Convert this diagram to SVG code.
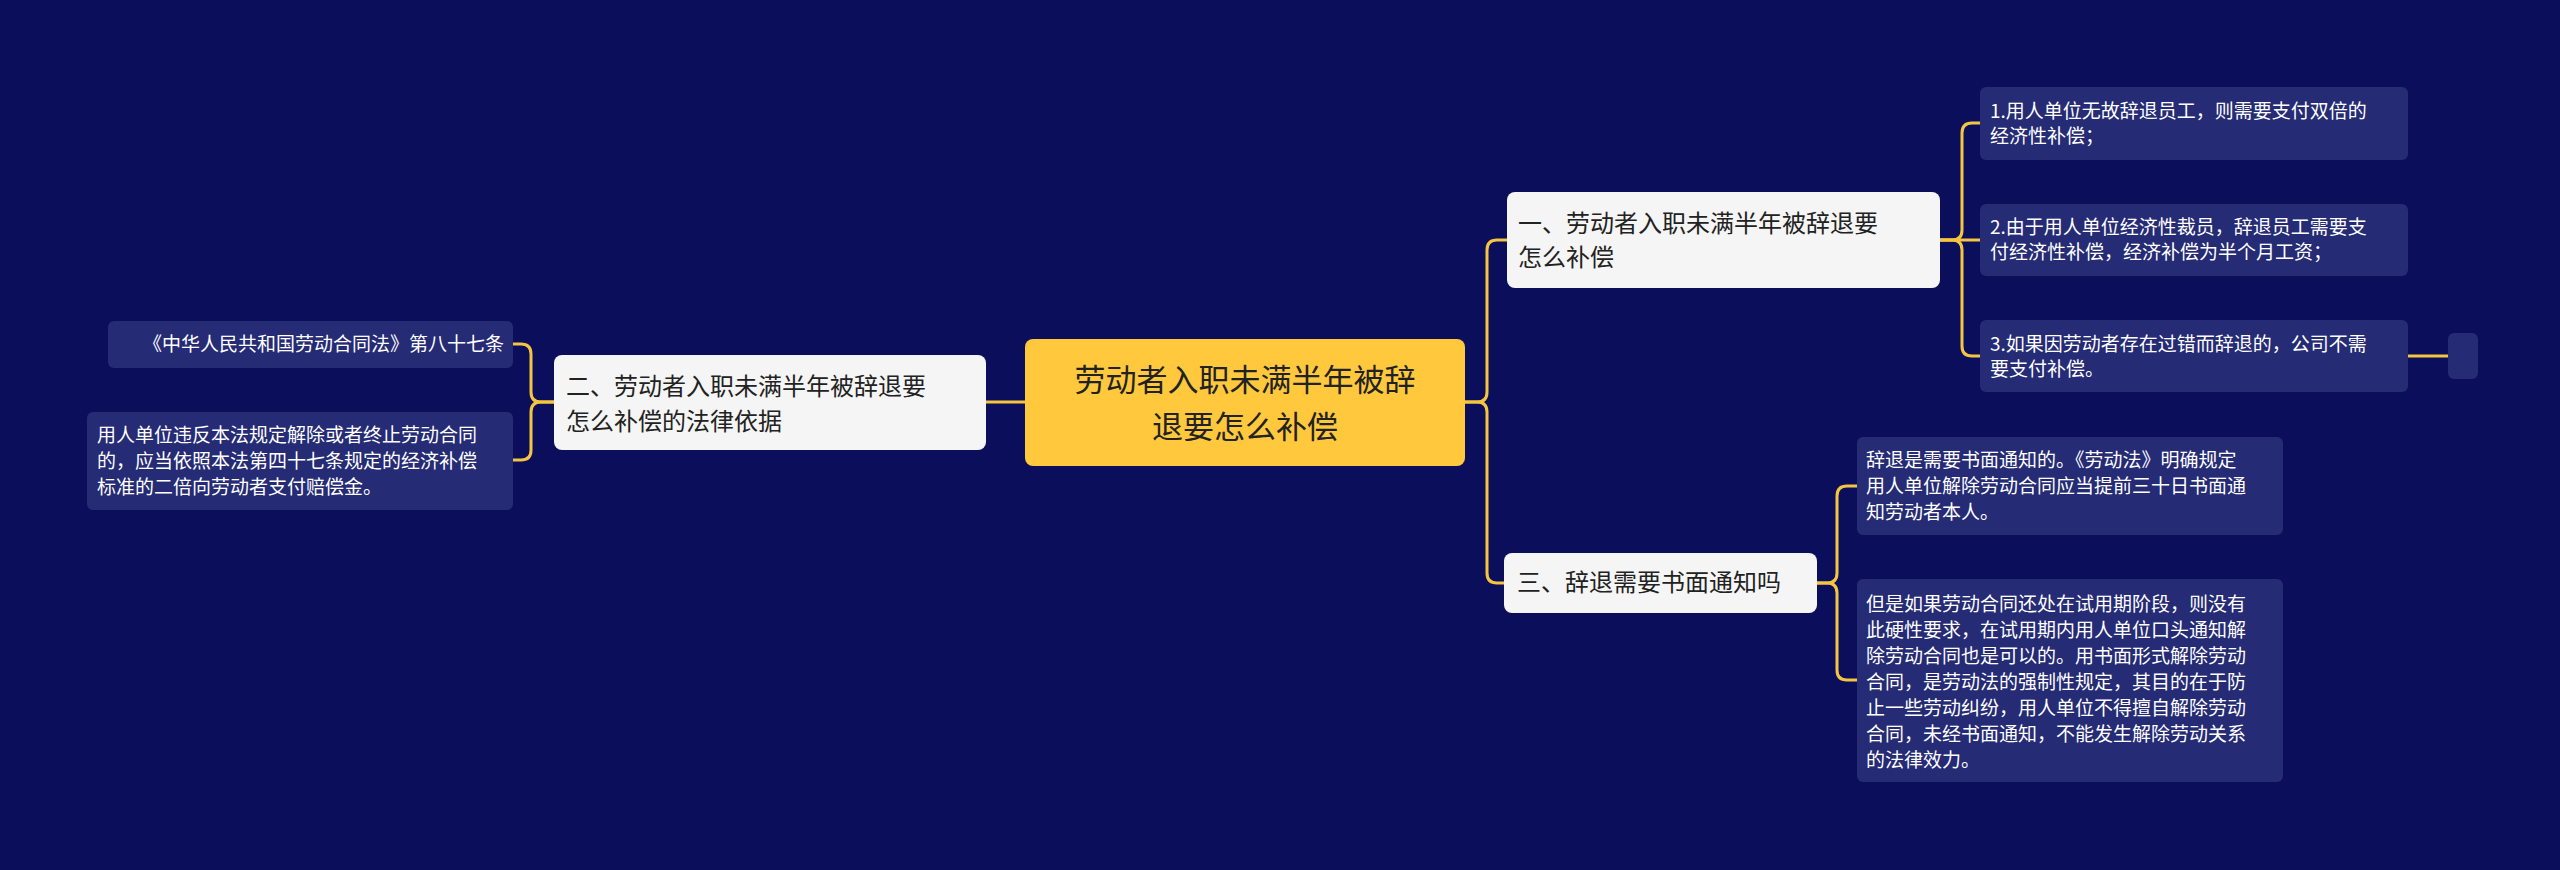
<svg xmlns="http://www.w3.org/2000/svg" width="2560" height="870" viewBox="0 0 2560 870">
<style>
text{font-family:"Noto Sans CJK SC","Liberation Sans",sans-serif}
.leaf{fill:#252b74}
.lt{fill:#ffffff;font-size:19px}
.wt{fill:#222222;font-size:24px}
.con{fill:none;stroke:#f5c542;stroke-width:3}
</style>
<rect width="2560" height="870" fill="#0b0e5a"/>
<g id="connectors">
<path class="con" d="M1465,402 H1477 Q1487,402 1487,392 V250 Q1487,240 1497,240 H1507"/>
<path class="con" d="M1465,402 H1477 Q1487,402 1487,412 V573 Q1487,583 1497,583 H1504"/>
<path class="con" d="M1025,402 H986"/>
<path class="con" d="M554,402 H541 Q531,402 531,392 V354 Q531,344 521,344 H513"/>
<path class="con" d="M554,402 H541 Q531,402 531,412 V450 Q531,460 521,460 H513"/>
<path class="con" d="M1940,240 H1952 Q1962,240 1962,230 V133 Q1962,123 1972,123 H1980"/>
<path class="con" d="M1940,240 H1980"/>
<path class="con" d="M1940,240 H1952 Q1962,240 1962,250 V346 Q1962,356 1972,356 H1980"/>
<path class="con" d="M2408,356 H2448"/>
<path class="con" d="M1817,583 H1827 Q1837,583 1837,573 V496 Q1837,486 1847,486 H1857"/>
<path class="con" d="M1817,583 H1827 Q1837,583 1837,593 V670 Q1837,680 1847,680 H1857"/>
</g>
<g id="root">
<rect x="1025" y="339" width="440" height="127" rx="8" fill="#ffc83d"/>
<text x="1245" y="391" font-size="31" fill="#222" text-anchor="middle">劳动者入职未满半年被辞</text>
<text x="1245" y="438" font-size="31" fill="#222" text-anchor="middle">退要怎么补偿</text>
</g>
<g id="n1">
<rect x="1507" y="192" width="433" height="96" rx="8" fill="#f5f5f5"/>
<text class="wt" x="1518" y="232">一、劳动者入职未满半年被辞退要</text>
<text class="wt" x="1518" y="266">怎么补偿</text>
</g>
<g id="n2">
<rect x="554" y="355" width="432" height="95" rx="8" fill="#f5f5f5"/>
<text class="wt" x="566" y="395">二、劳动者入职未满半年被辞退要</text>
<text class="wt" x="566" y="430">怎么补偿的法律依据</text>
</g>
<g id="n3">
<rect x="1504" y="553" width="313" height="60" rx="8" fill="#f5f5f5"/>
<text class="wt" x="1517" y="591">三、辞退需要书面通知吗</text>
</g>
<g id="l1">
<rect class="leaf" x="1980" y="87" width="428" height="73" rx="6"/>
<text class="lt" x="1990" y="118">1.用人单位无故辞退员工，则需要支付双倍的</text>
<text class="lt" x="1990" y="143">经济性补偿；</text>
</g>
<g id="l2">
<rect class="leaf" x="1980" y="204" width="428" height="72" rx="6"/>
<text class="lt" x="1990" y="234">2.由于用人单位经济性裁员，辞退员工需要支</text>
<text class="lt" x="1990" y="259">付经济性补偿，经济补偿为半个月工资；</text>
</g>
<g id="l3">
<rect class="leaf" x="1980" y="320" width="428" height="72" rx="6"/>
<text class="lt" x="1990" y="351">3.如果因劳动者存在过错而辞退的，公司不需</text>
<text class="lt" x="1990" y="376">要支付补偿。</text>
</g>
<g id="l3a">
<rect class="leaf" x="2448" y="333" width="30" height="46" rx="6"/>
</g>
<g id="la">
<rect class="leaf" x="1857" y="437" width="426" height="98" rx="6"/>
<text class="lt" x="1866" y="467">辞退是需要书面通知的。《劳动法》明确规定</text>
<text class="lt" x="1866" y="493">用人单位解除劳动合同应当提前三十日书面通</text>
<text class="lt" x="1866" y="519">知劳动者本人。</text>
</g>
<g id="lb">
<rect class="leaf" x="1857" y="579" width="426" height="203" rx="6"/>
<text class="lt" x="1866" y="611">但是如果劳动合同还处在试用期阶段，则没有</text>
<text class="lt" x="1866" y="637">此硬性要求，在试用期内用人单位口头通知解</text>
<text class="lt" x="1866" y="663">除劳动合同也是可以的。用书面形式解除劳动</text>
<text class="lt" x="1866" y="689">合同，是劳动法的强制性规定，其目的在于防</text>
<text class="lt" x="1866" y="715">止一些劳动纠纷，用人单位不得擅自解除劳动</text>
<text class="lt" x="1866" y="741">合同，未经书面通知，不能发生解除劳动关系</text>
<text class="lt" x="1866" y="767">的法律效力。</text>
</g>
<g id="ll1">
<rect class="leaf" x="108" y="321" width="405" height="47" rx="6"/>
<text class="lt" x="504" y="351" text-anchor="end">《中华人民共和国劳动合同法》第八十七条</text>
</g>
<g id="ll2">
<rect class="leaf" x="87" y="412" width="426" height="98" rx="6"/>
<text class="lt" x="97" y="442">用人单位违反本法规定解除或者终止劳动合同</text>
<text class="lt" x="97" y="468">的，应当依照本法第四十七条规定的经济补偿</text>
<text class="lt" x="97" y="494">标准的二倍向劳动者支付赔偿金。</text>
</g>
</svg>
